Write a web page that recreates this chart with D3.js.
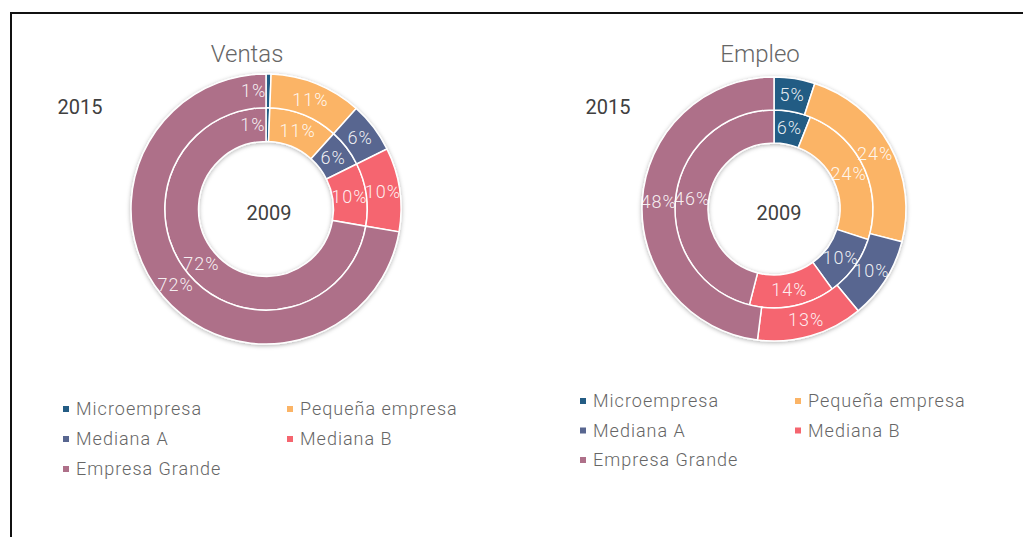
<!DOCTYPE html>
<meta charset="utf-8">
<style>
  body { margin: 0; background: #fff; }
  text { font-family: Roboto, "Noto Sans", sans-serif; }
  .title { font-size: 24px; fill: #666; font-weight: 300; }
  .year { font-size: 20px; fill: #404040; }
  .pct { font-size: 18px; fill: #fff; fill-opacity: 0.9; letter-spacing: 1px; font-weight: 300; }
  .legend text { font-size: 18px; fill: #666; letter-spacing: 1px; font-weight: 300; }
</style>
<body>
<script src="https://d3js.org/d3.v7.min.js"></script>
<script>

// data (percent shares)
var categories = ["Microempresa", "Pequeña empresa", "Mediana A", "Mediana B", "Empresa Grande"];
var colors = ["#245c84", "#fbb466", "#586690", "#f5656f", "#ae7089"];
var ventas2015 = [0.6, 11, 6, 10, 72];
var ventas2009 = [0.6, 11, 6, 10, 72];
var empleo2015 = [5, 24, 10, 13, 48];
var empleo2009 = [6, 24, 10, 14, 46];
var titles = ["Ventas", "Empleo"];
var yearLabels = ["2015", "2009"];

var width = 1023, height = 537;

var svg = d3.select("body").append("svg")
  .attr("width", width)
  .attr("height", height);

// soft shadow around the rings
var defs = svg.append("defs");
var f = defs.append("filter").attr("id", "shadow")
  .attr("x", "-20%").attr("y", "-20%").attr("width", "140%").attr("height", "140%");
f.append("feDropShadow")
  .attr("dx", 0).attr("dy", 1)
  .attr("stdDeviation", 2)
  .attr("flood-color", "#000")
  .attr("flood-opacity", 0.3);

// frame (only top and left edges are in view)
svg.append("path")
  .attr("d", "M11," + (height + 5) + "V13H" + (width + 5))
  .attr("fill", "none")
  .attr("stroke", "#111")
  .attr("stroke-width", 2);

var color = d3.scaleOrdinal().domain(categories).range(colors);
var pie = d3.pie().sort(null).value(function (d) { return d; });
var fmt = function (v) { return Math.round(v) + "%"; };

var charts = [
  { title: titles[0], outer: ventas2015, inner: ventas2009, cx: 266, cy: 209, r: 135,
    titleX: 247, yearX: 80, yearY: 114, centerX: 269,
    legX: 63, legX2: 287, legY: 415, legDy: 30 },
  { title: titles[1], outer: empleo2015, inner: empleo2009, cx: 774, cy: 209, r: 132,
    titleX: 760, yearX: 608, yearY: 114, centerX: 779,
    legX: 580, legX2: 795, legY: 407, legDy: 29.5 }
];

charts.forEach(function (c) {
  var g = svg.append("g");

  g.append("text")
    .attr("class", "title")
    .attr("x", c.titleX)
    .attr("y", 62)
    .attr("text-anchor", "middle")
    .text(c.title);

  g.append("text")
    .attr("class", "year")
    .attr("x", c.yearX)
    .attr("y", c.yearY)
    .attr("text-anchor", "middle")
    .text(yearLabels[0]);

  g.append("text")
    .attr("class", "year")
    .attr("x", c.centerX)
    .attr("y", 220)
    .attr("text-anchor", "middle")
    .text(yearLabels[1]);

  var rings = [
    { values: c.inner, r0: c.r * 0.5, r1: c.r * 0.75 },
    { values: c.outer, r0: c.r * 0.75, r1: c.r }
  ];

  var donut = g.append("g")
    .attr("transform", "translate(" + c.cx + "," + c.cy + ")");

  var shapes = donut.append("g").attr("filter", "url(#shadow)");

  rings.forEach(function (ring) {
    var arc = d3.arc().innerRadius(ring.r0).outerRadius(ring.r1);
    var arcs = pie(ring.values);

    shapes.selectAll(null)
      .data(arcs)
      .enter().append("path")
      .attr("d", arc)
      .attr("fill", function (d, i) { return color(categories[i]); })
      .attr("stroke", "#fff")
      .attr("stroke-width", 1.5);

    donut.selectAll(null)
      .data(arcs)
      .enter().append("text")
      .attr("class", "pct")
      .attr("transform", function (d) {
        var p = arc.centroid(d);
        // tiny slice: label sits just left of the sliver
        if (d.value < 2) p[0] -= 2;
        return "translate(" + p + ")";
      })
      .attr("dy", "0.35em")
      .attr("text-anchor", function (d) { return d.value < 2 ? "end" : "middle"; })
      .text(function (d) { return fmt(d.value); });
  });

  // legend, two columns
  var legend = g.append("g").attr("class", "legend");
  var items = legend.selectAll("g")
    .data(categories)
    .enter().append("g")
    .attr("transform", function (d, i) {
      var x = i % 2 === 0 ? c.legX : c.legX2;
      var y = c.legY + Math.floor(i / 2) * c.legDy;
      return "translate(" + x + "," + y + ")";
    });

  items.append("rect")
    .attr("x", 0)
    .attr("y", -9)
    .attr("width", 6)
    .attr("height", 6)
    .attr("fill", function (d) { return color(d); });

  items.append("text")
    .attr("x", 13)
    .attr("y", 0)
    .text(function (d) { return d; });
});

</script>
</body>
